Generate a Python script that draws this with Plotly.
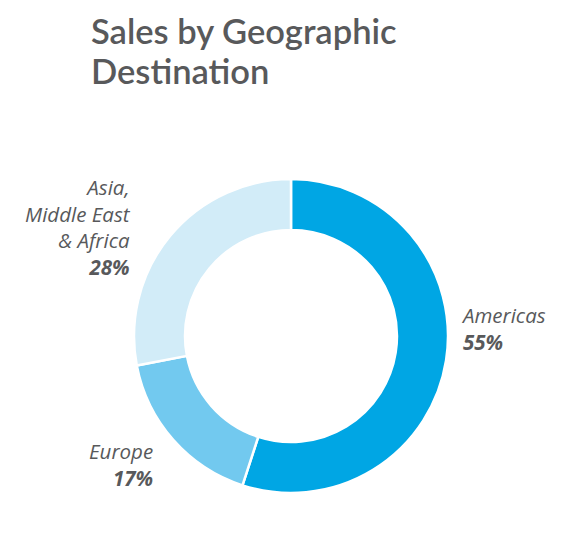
import plotly.graph_objects as go

W, H = 564, 534
OFF = 8  # page body margin

regions = ["Americas", "Europe", "Asia, Middle East & Africa"]
shares = [55, 17, 28]
label_lines = [["Americas"], ["Europe"], ["Asia,", "Middle East", "& Africa"]]
colors = ["#00a6e4", "#72c9ef", "#d2ecf8"]
title_lines = ["Sales by Geographic", "Destination"]

TXT = "#58595b"

def px(x):
    return (x - OFF) / W

def py(y):
    return 1 - (y - OFF) / H

fig = go.Figure(go.Pie(
    labels=regions,
    values=shares,
    hole=0.675,
    sort=False,
    direction="clockwise",
    rotation=0,
    marker=dict(colors=colors, line=dict(color="white", width=2.5)),
    textinfo="none",
    hoverinfo="label+percent",
    domain=dict(x=[px(134), px(448)], y=[py(493), py(179)]),
    showlegend=False,
))

annotations = []
# title
for line, yb in zip(title_lines, [53, 93]):
    annotations.append(dict(text=line, x=px(89), y=py(yb), xref="paper", yref="paper",
                            xanchor="left", yanchor="bottom", showarrow=False,
                            font=dict(family="Lato", size=34.5, color=TXT, weight=600)))

# slice labels
pos = [  # x, y(middle), xanchor
    (459, 328, "left"),
    (155, 464, "right"),
    (133, 227, "right"),
]
for lines, val, (x, y, xa) in zip(label_lines, shares, pos):
    txt = "<br>".join(f"<i>{l}</i>" for l in lines) + f"<br><b><i>{val}%</i></b>"
    annotations.append(dict(text=txt, x=px(x), y=py(y), xref="paper", yref="paper",
                            xanchor=xa, yanchor="middle", align=xa, showarrow=False,
                            font=dict(family="Open Sans", size=20.5, color=TXT)))

fig.update_layout(
    width=W, height=H,
    margin=dict(l=0, r=0, t=0, b=0),
    paper_bgcolor="white", plot_bgcolor="white",
    annotations=annotations,
)

fig.write_html("out.html")
